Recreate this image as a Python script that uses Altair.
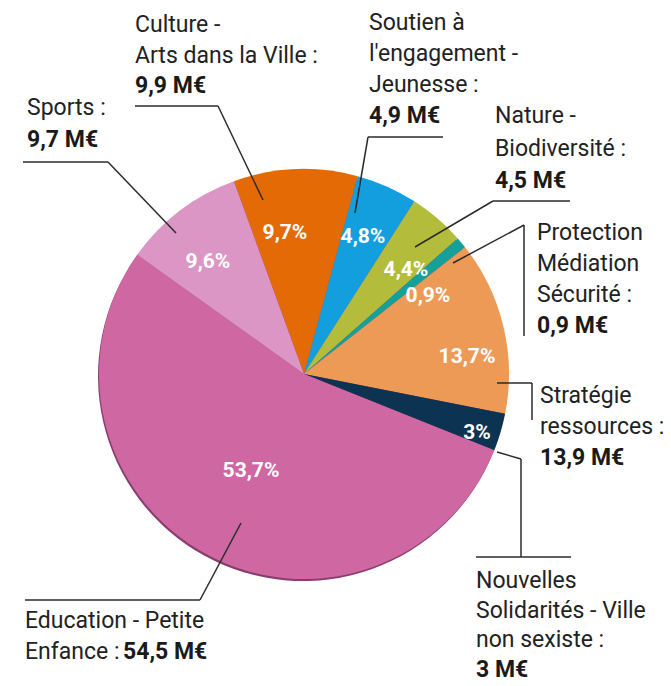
import math
import altair as alt
import pandas as pd

# ---- data ----
categories = [
    "Culture - Arts dans la Ville",
    "Soutien à l'engagement - Jeunesse",
    "Nature - Biodiversité",
    "Protection Médiation Sécurité",
    "Stratégie ressources",
    "Nouvelles Solidarités - Ville non sexiste",
    "Education - Petite Enfance",
    "Sports",
]
amounts_meur = [9.9, 4.9, 4.5, 0.9, 13.9, 3.0, 54.5, 9.7]
pct_labels = ["9,7%", "4,8%", "4,4%", "0,9%", "13,7%", "3%", "53,7%", "9,6%"]
name_lines = [
    ["Culture -", "Arts dans la Ville :"],
    ["Soutien à", "l'engagement -", "Jeunesse :"],
    ["Nature -", "Biodiversité :"],
    ["Protection", "Médiation", "Sécurité :"],
    ["Stratégie", "ressources :"],
    ["Nouvelles", "Solidarités - Ville", "non sexiste :"],
    ["Education - Petite", "Enfance :"],
    ["Sports :"],
]
amount_labels = ["9,9 M€", "4,9 M€", "4,5 M€", "0,9 M€", "13,9 M€", "3 M€", "54,5 M€", "9,7 M€"]

# ---- styles / layout ----
colors = ["#E46A05", "#139FDD", "#B3BD3B", "#15A09A", "#EE9A57", "#0D3352", "#CE67A2", "#DB96C5"]
FONT = "Roboto"
M = 8  # page margin
CX, CY, R = 304 - M, 374 - M, 205
START_DEG = -20.0
start = 2 * math.pi + math.radians(START_DEG)

# label blocks: (left x, first baseline, line height, inline amount x or None)
label_layout = [
    (135, 32, 30.5, None),
    (369, 30, 31, None),
    (495, 123, 32.5, None),
    (537, 240, 31, None),
    (540, 403, 31, None),
    (476, 588, 29.5, None),
    (25, 628, 31, 123),
    (27, 115, 32, None),
]
pct_pos = [(285, 233), (363, 237), (406, 270), (428, 296), (467, 357), (477, 433), (251, 471), (208, 262)]
leaders = [
    [(135, 106, 218, 106), (218, 106, 263, 200)],
    [(368, 137, 443, 137), (368, 137, 355, 213)],
    [(493, 201, 570, 201), (493, 201, 415, 247)],
    [(524, 225, 524, 336), (524, 225, 453, 263)],
    [(497, 383, 532, 383), (532, 383, 532, 420)],
    [(497, 452, 521, 459), (521, 459, 521, 557), (476, 557, 571, 557)],
    [(25, 600, 200, 600), (200, 600, 241, 523)],
    [(23, 162, 108, 162), (108, 162, 176, 233)],
]

# ---- tables ----
pie_df = pd.DataFrame({"cat": categories, "value": amounts_meur, "idx": range(len(categories))})

reg_rows, bold_rows = [], []
for i, lines in enumerate(name_lines):
    x, y0, lh, inline_x = label_layout[i]
    for j, t in enumerate(lines):
        reg_rows.append({"px": x - M, "py": y0 + j * lh - M, "t": t})
    if inline_x is None:
        bold_rows.append({"px": x - M, "py": y0 + len(lines) * lh - M, "t": amount_labels[i]})
    else:
        bold_rows.append({"px": inline_x - M, "py": y0 + (len(lines) - 1) * lh - M, "t": amount_labels[i]})
reg_df = pd.DataFrame(reg_rows)
bold_df = pd.DataFrame(bold_rows)

pct_df = pd.DataFrame({
    "px": [p[0] - M for p in pct_pos],
    "py": [p[1] - M for p in pct_pos],
    "t": pct_labels,
})

seg_rows = []
for segs in leaders:
    for (x1, y1, x2, y2) in segs:
        seg_rows.append({"x1": x1 - M, "y1": y1 - M, "x2": x2 - M, "y2": y2 - M})
seg_df = pd.DataFrame(seg_rows)

# ---- chart ----
theta_enc = alt.Theta("value:Q", stack=True, scale=alt.Scale(range=[start, start + 2 * math.pi]))

shadow = alt.Chart(pie_df).mark_arc(radius=R, color="#8A3C6C").encode(
    theta=theta_enc,
    order=alt.Order("idx:Q"),
    x=alt.value(CX - 1),
    y=alt.value(CY + 2),
)

pie = alt.Chart(pie_df).mark_arc(radius=R).encode(
    theta=theta_enc,
    color=alt.Color("cat:N", scale=alt.Scale(domain=categories, range=colors), legend=None),
    order=alt.Order("idx:Q"),
    x=alt.value(CX),
    y=alt.value(CY),
)

lines_layer = alt.Chart(seg_df).mark_rule(color="#2b2b2b", strokeWidth=1.5).encode(
    x=alt.X("x1:Q", scale=None), y=alt.Y("y1:Q", scale=None),
    x2="x2:Q", y2="y2:Q",
)

pct_layer = alt.Chart(pct_df).mark_text(
    font=FONT, fontSize=21, fontWeight="bold", color="white", align="center", baseline="middle"
).encode(x=alt.X("px:Q", scale=None), y=alt.Y("py:Q", scale=None), text="t:N")

reg_layer = alt.Chart(reg_df).mark_text(
    font=FONT, fontSize=23, fontWeight=400, color="#222222", align="left", baseline="alphabetic"
).encode(x=alt.X("px:Q", scale=None), y=alt.Y("py:Q", scale=None), text="t:N")

bold_layer = alt.Chart(bold_df).mark_text(
    font=FONT, fontSize=23, fontWeight=700, color="#1a1a1a", align="left", baseline="alphabetic"
).encode(x=alt.X("px:Q", scale=None), y=alt.Y("py:Q", scale=None), text="t:N")

chart = alt.layer(shadow, pie, lines_layer, pct_layer, reg_layer, bold_layer).properties(
    width=655, height=676, padding=0, autosize="none"
).configure_view(stroke=None)

chart.save("out.html", embed_options={"renderer": "svg", "actions": False})
